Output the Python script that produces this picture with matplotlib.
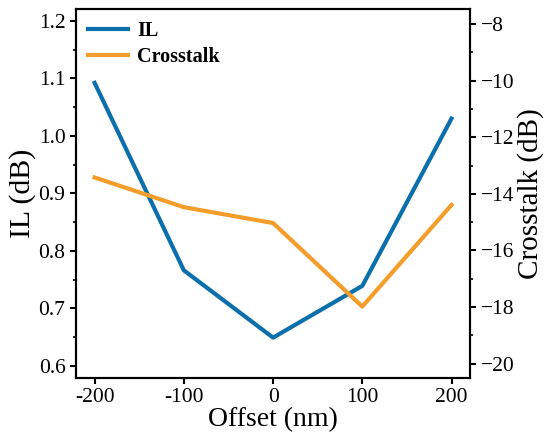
import matplotlib.pyplot as plt
from matplotlib.ticker import MultipleLocator

offset = [-200, -100, 0, 100, 200]
il = [1.092, 0.766, 0.649, 0.739, 1.030]
crosstalk = [-13.42, -14.47, -15.03, -17.98, -14.39]

plt.rcParams['font.family'] = ['Liberation Serif', 'DejaVu Serif']
plt.rcParams['axes.linewidth'] = 1.5

fig = plt.figure(figsize=(5.5, 4.43), dpi=100)
ax = fig.add_axes([0.138, 0.147, 0.717, 0.832])
ax2 = ax.twinx()

l1, = ax.plot(offset, il, color='#0b6fac', lw=3, label='IL')
l2, = ax2.plot(offset, crosstalk, color='#f59d2a', lw=3, label='Crosstalk')

ax.set_xlim(-221, 221)
ax.set_ylim(0.579, 1.22)
ax2.set_ylim(-20.5, -7.48)

ax.set_xticks(offset)
ax.set_xticklabels(['-200', '-100', '0', '100', '200'])
ax.yaxis.set_major_locator(MultipleLocator(0.1))
ax.yaxis.set_minor_locator(MultipleLocator(0.05))
ax2.yaxis.set_major_locator(MultipleLocator(2))
ax2.yaxis.set_minor_locator(MultipleLocator(1))

for a in (ax, ax2):
    a.tick_params(which='major', length=4.5, width=1.5, labelsize=15.5, pad=3)
    a.tick_params(which='minor', length=2.5, width=1.2)

ax.set_xlabel('Offset (nm)', fontsize=20, labelpad=0)
ax.set_ylabel('IL (dB)', fontsize=21.5, labelpad=2)
ax2.set_ylabel('Crosstalk (dB)', fontsize=21, labelpad=2)

ax.legend([l1, l2], ['IL', 'Crosstalk'], loc='upper left', frameon=False,
          prop={'weight': 'bold', 'size': 14.5}, borderaxespad=0.2,
          handlelength=2.0, handletextpad=0.45, labelspacing=0.3)

fig.savefig('out.png', dpi=100)
